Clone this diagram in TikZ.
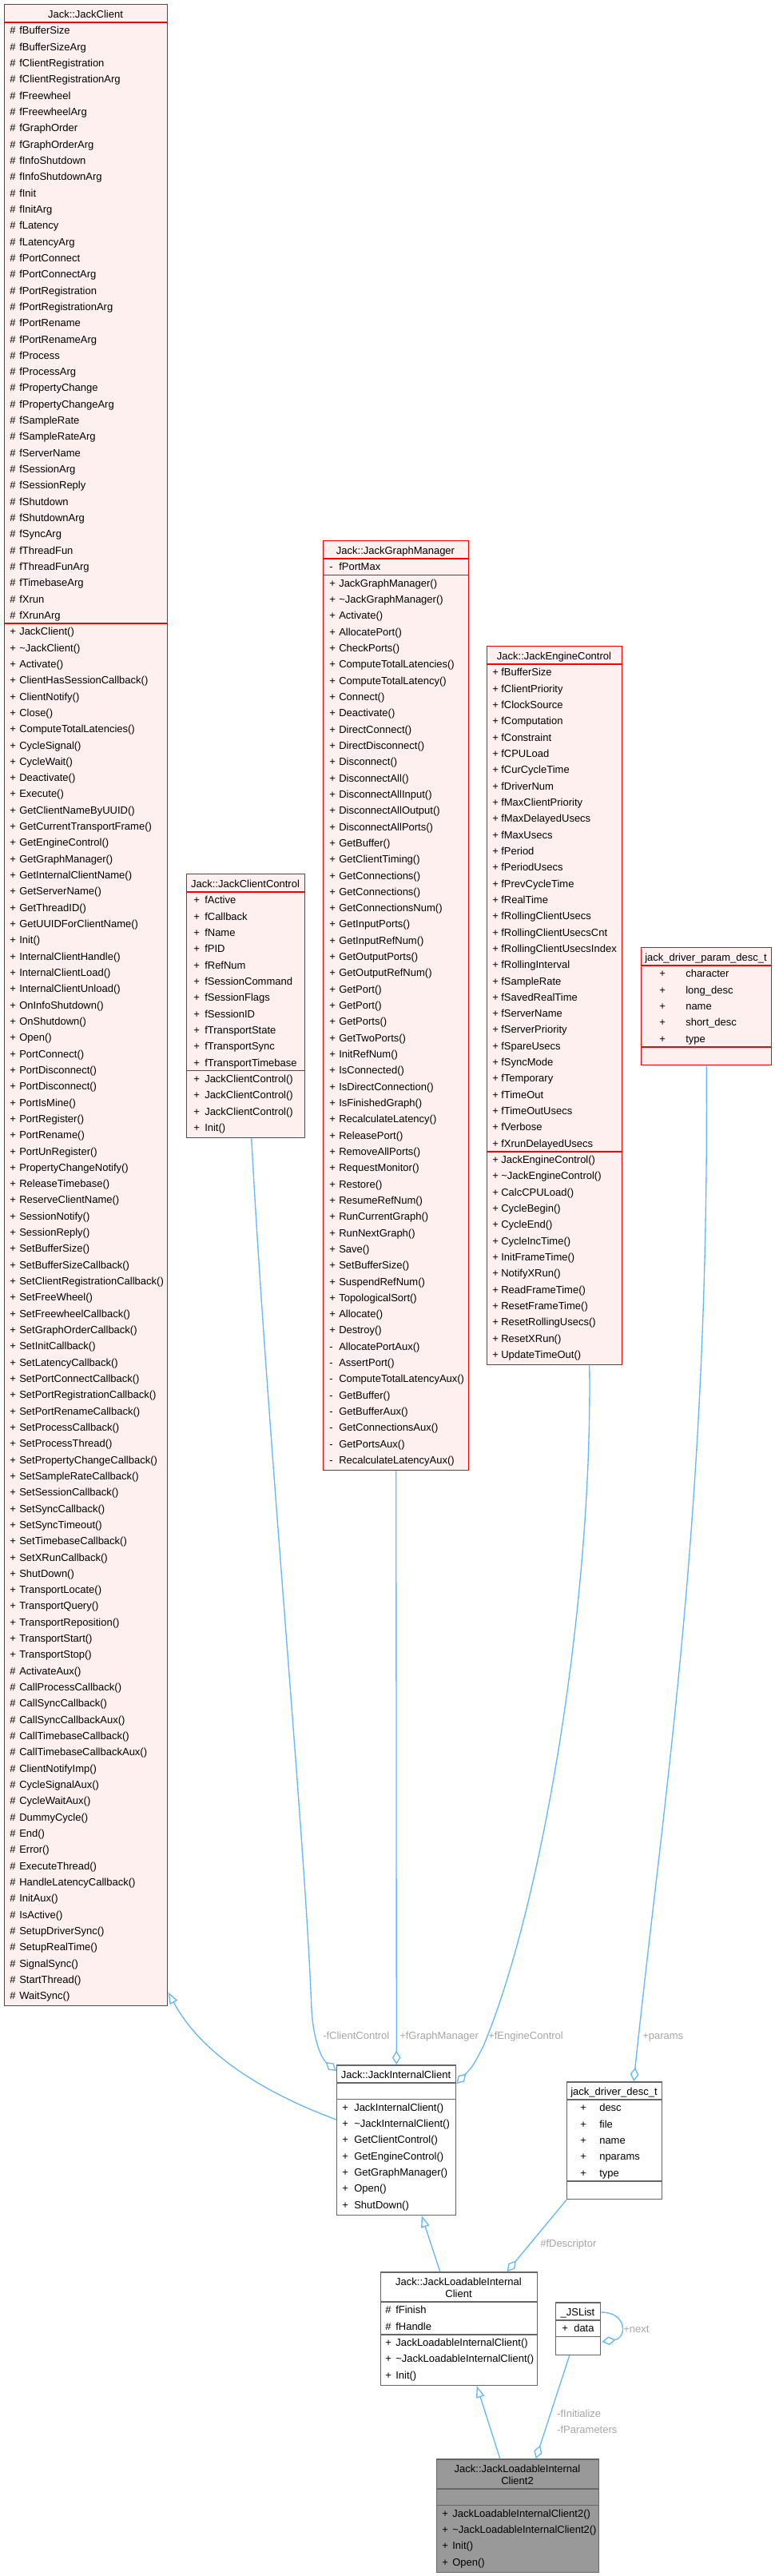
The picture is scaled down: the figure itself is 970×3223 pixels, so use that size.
\documentclass[tikz,border=0pt]{standalone}
\usepackage{fontspec}
\setmainfont{Liberation Sans}
\usepackage{tikz}
\usetikzlibrary{arrows.meta, calc}
\usepackage{xcolor}
\definecolor{edgeblue}{HTML}{63B8FF}
\definecolor{boxred}{HTML}{FF0000}
\definecolor{boxpink}{HTML}{FFF0F0}
\definecolor{boxgray}{HTML}{666666}
\definecolor{mainfill}{HTML}{999999}
\definecolor{lblgray}{HTML}{A6A6A6}
\newcommand{\pxu}{0.75pt}
% rows of one member group: prefix, x of sign, x of name, first y, sign, names
\newcommand{\members}[6]{%
  \foreach \mname [count=\k from 0] in {#6} {
    \node[member] (#1s\k) at ({#2},{#4+\k*20.32}) {#5};
    \node[member] (#1t\k) at ({#3},{#4+\k*20.32}) {\mname};
  }}

\begin{document}
\begin{tikzpicture}[x=0.75pt, y=-0.75pt,
    member/.style={anchor=base west, inner sep=0pt, yshift=-3.45pt,
                   font=\fontsize{9.75}{12}\selectfont},
    boxtitle/.style={member, anchor=base},
    elabel/.style={member, text=lblgray},
    redbox/.style={rectangle, draw=boxred, fill=boxpink, line width=1.1pt,
                   anchor=north west, inner sep=0pt},
    graybox/.style={redbox, draw=boxgray, fill=white},
    mainbox/.style={graybox, fill=mainfill},
    redrule/.style={draw=boxred, line width=1.1pt},
    grayrule/.style={draw=boxgray, line width=1.1pt},
    inh/.style={draw=edgeblue, line width=1pt, -{Triangle[open, length=11pt, width=8pt]}},
    agg/.style={draw=edgeblue, line width=1pt, -{Diamond[open, length=13pt, width=8pt]}}
  ]
    \fill[white] (0,0) rectangle (970,3223);
    \useasboundingbox (0,0) rectangle (970,3223);

    % Jack::JackClient
    \node[redbox, minimum width=204*\pxu, minimum height=2504*\pxu] (jclient) at (5,5) {};
    \node[boxtitle] (jclientT) at (107,18) {Jack::JackClient};
    \draw[redrule] (5,28.16) -- (209,28.16);
    \draw[redrule] (5,780) -- (209,780);
    \members{jca}{12}{24}{38.32}{\#}{fBufferSize, fBufferSizeArg, fClientRegistration,
      fClientRegistrationArg, fFreewheel, fFreewheelArg, fGraphOrder, fGraphOrderArg,
      fInfoShutdown, fInfoShutdownArg, fInit, fInitArg, fLatency, fLatencyArg,
      fPortConnect, fPortConnectArg, fPortRegistration, fPortRegistrationArg,
      fPortRename, fPortRenameArg, fProcess, fProcessArg, fPropertyChange,
      fPropertyChangeArg, fSampleRate, fSampleRateArg, fServerName, fSessionArg,
      fSessionReply, fShutdown, fShutdownArg, fSyncArg, fThreadFun, fThreadFunArg,
      fTimebaseArg, fXrun, fXrunArg}
    \members{jcp}{12}{24}{790.16}{+}{JackClient(), \textasciitilde JackClient(), Activate(),
      ClientHasSessionCallback(), ClientNotify(), Close(), ComputeTotalLatencies(),
      CycleSignal(), CycleWait(), Deactivate(), Execute(), GetClientNameByUUID(),
      GetCurrentTransportFrame(), GetEngineControl(), GetGraphManager(),
      GetInternalClientName(), GetServerName(), GetThreadID(), GetUUIDForClientName(),
      Init(), InternalClientHandle(), InternalClientLoad(), InternalClientUnload(),
      OnInfoShutdown(), OnShutdown(), Open(), PortConnect(), PortDisconnect(),
      PortDisconnect(), PortIsMine(), PortRegister(), PortRename(), PortUnRegister(),
      PropertyChangeNotify(), ReleaseTimebase(), ReserveClientName(), SessionNotify(),
      SessionReply(), SetBufferSize(), SetBufferSizeCallback(),
      SetClientRegistrationCallback(), SetFreeWheel(), SetFreewheelCallback(),
      SetGraphOrderCallback(), SetInitCallback(), SetLatencyCallback(),
      SetPortConnectCallback(), SetPortRegistrationCallback(), SetPortRenameCallback(),
      SetProcessCallback(), SetProcessThread(), SetPropertyChangeCallback(),
      SetSampleRateCallback(), SetSessionCallback(), SetSyncCallback(),
      SetSyncTimeout(), SetTimebaseCallback(), SetXRunCallback(), ShutDown(),
      TransportLocate(), TransportQuery(), TransportReposition(), TransportStart(),
      TransportStop()}
    \members{jcq}{12}{24}{2090.64}{\#}{ActivateAux(), CallProcessCallback(),
      CallSyncCallback(), CallSyncCallbackAux(), CallTimebaseCallback(),
      CallTimebaseCallbackAux(), ClientNotifyImp(), CycleSignalAux(), CycleWaitAux(),
      DummyCycle(), End(), Error(), ExecuteThread(), HandleLatencyCallback(), InitAux(),
      IsActive(), SetupDriverSync(), SetupRealTime(), SignalSync(), StartThread(),
      WaitSync()}

    % Jack::JackClientControl
    \node[redbox, minimum width=148*\pxu, minimum height=329.8*\pxu] (ctl) at (233,1093) {};
    \node[boxtitle] (ctlT) at (307,1106) {Jack::JackClientControl};
    \draw[redrule] (233,1116.16) -- (381,1116.16);
    \draw[redrule] (233,1339.68) -- (381,1339.68);
    \members{cca}{242}{256}{1126.32}{+}{fActive, fCallback, fName, fPID, fRefNum,
      fSessionCommand, fSessionFlags, fSessionID, fTransportState, fTransportSync,
      fTransportTimebase}
    \members{ccp}{242}{256}{1349.84}{+}{JackClientControl(), JackClientControl(),
      JackClientControl(), Init()}

    % Jack::JackGraphManager
    \node[redbox, minimum width=182*\pxu, minimum height=1162.9*\pxu] (gmgr) at (404,676) {};
    \node[boxtitle] (gmgrT) at (495,689) {Jack::JackGraphManager};
    \draw[redrule] (404,699.16) -- (586,699.16);
    \draw[redrule] (404,719.48) -- (586,719.48);
    \members{gma}{412}{424}{709.32}{-}{fPortMax}
    \members{gmp}{412}{424}{729.64}{+}{JackGraphManager(), \textasciitilde JackGraphManager(),
      Activate(), AllocatePort(), CheckPorts(), ComputeTotalLatencies(),
      ComputeTotalLatency(), Connect(), Deactivate(), DirectConnect(),
      DirectDisconnect(), Disconnect(), DisconnectAll(), DisconnectAllInput(),
      DisconnectAllOutput(), DisconnectAllPorts(), GetBuffer(), GetClientTiming(),
      GetConnections(), GetConnections(), GetConnectionsNum(), GetInputPorts(),
      GetInputRefNum(), GetOutputPorts(), GetOutputRefNum(), GetPort(), GetPort(),
      GetPorts(), GetTwoPorts(), InitRefNum(), IsConnected(), IsDirectConnection(),
      IsFinishedGraph(), RecalculateLatency(), ReleasePort(), RemoveAllPorts(),
      RequestMonitor(), Restore(), ResumeRefNum(), RunCurrentGraph(), RunNextGraph(),
      Save(), SetBufferSize(), SuspendRefNum(), TopologicalSort(), Allocate(), Destroy()}
    \members{gmq}{412}{424}{1684.68}{-}{AllocatePortAux(), AssertPort(),
      ComputeTotalLatencyAux(), GetBuffer(), GetBufferAux(), GetConnectionsAux(),
      GetPortsAux(), RecalculateLatencyAux()}

    % Jack::JackEngineControl
    \node[redbox, minimum width=169*\pxu, minimum height=898.8*\pxu] (engctl) at (609,808) {};
    \node[boxtitle] (engctlT) at (693.5,821) {Jack::JackEngineControl};
    \draw[redrule] (609,831.16) -- (778,831.16);
    \draw[redrule] (609,1440.76) -- (778,1440.76);
    \members{eca}{616}{627}{841.32}{+}{fBufferSize, fClientPriority, fClockSource,
      fComputation, fConstraint, fCPULoad, fCurCycleTime, fDriverNum,
      fMaxClientPriority, fMaxDelayedUsecs, fMaxUsecs, fPeriod, fPeriodUsecs,
      fPrevCycleTime, fRealTime, fRollingClientUsecs, fRollingClientUsecsCnt,
      fRollingClientUsecsIndex, fRollingInterval, fSampleRate, fSavedRealTime,
      fServerName, fServerPriority, fSpareUsecs, fSyncMode, fTemporary, fTimeOut,
      fTimeOutUsecs, fVerbose, fXrunDelayedUsecs}
    \members{ecp}{616}{627}{1450.92}{+}{JackEngineControl(),
      \textasciitilde JackEngineControl(), CalcCPULoad(), CycleBegin(), CycleEnd(),
      CycleIncTime(), InitFrameTime(), NotifyXRun(), ReadFrameTime(), ResetFrameTime(),
      ResetRollingUsecs(), ResetXRun(), UpdateTimeOut()}

    % jack_driver_param_desc_t
    \node[redbox, minimum width=163*\pxu, minimum height=147*\pxu] (pdesc) at (802,1185) {};
    \node[boxtitle] (pdescT) at (883.5,1198) {jack\_driver\_param\_desc\_t};
    \draw[redrule] (802,1208.16) -- (965,1208.16);
    \draw[redrule] (802,1309.76) -- (965,1309.76);
    \members{pda}{825}{858}{1218.32}{+}{character, long\_desc, name, short\_desc, type}

    % Jack::JackInternalClient
    \node[graybox, minimum width=149*\pxu, minimum height=187.6*\pxu] (intcl) at (421,2583) {};
    \node[boxtitle] (intclT) at (495.5,2596) {Jack::JackInternalClient};
    \draw[grayrule] (421,2606.16) -- (570,2606.16);
    \draw[grayrule] (421,2626.48) -- (570,2626.48);
    \members{icp}{428}{443}{2636.64}{+}{JackInternalClient(),
      \textasciitilde JackInternalClient(), GetClientControl(), GetEngineControl(),
      GetGraphManager(), Open(), ShutDown()}

    % jack_driver_desc_t
    \node[graybox, minimum width=119*\pxu, minimum height=146.9*\pxu] (ddesc) at (709,2604) {};
    \node[boxtitle] (ddescT) at (768.5,2617) {jack\_driver\_desc\_t};
    \draw[grayrule] (709,2627.16) -- (828,2627.16);
    \draw[grayrule] (709,2728.76) -- (828,2728.76);
    \members{dda}{726}{750}{2637.32}{+}{desc, file, name, nparams, type}

    % Jack::JackLoadableInternalClient
    \node[graybox, minimum width=196*\pxu, minimum height=141.6*\pxu] (ldcl) at (476,2842) {};
    \node[boxtitle] (ldclT) at (574,2855) {Jack::JackLoadableInternal};
    \node[boxtitle] (ldclU) at (574,2870) {Client};
    \draw[grayrule] (476,2880.16) -- (672,2880.16);
    \draw[grayrule] (476,2920.8) -- (672,2920.8);
    \members{lca}{482}{495}{2890.32}{\#}{fFinish, fHandle}
    \members{lcp}{482}{495}{2930.96}{+}{JackLoadableInternalClient(),
      \textasciitilde JackLoadableInternalClient(), Init()}

    % _JSList
    \node[graybox, minimum width=56*\pxu, minimum height=65.6*\pxu] (jslist) at (695,2880) {};
    \node[boxtitle] (jslistT) at (723,2893) {\_JSList};
    \draw[grayrule] (695,2903.16) -- (751,2903.16);
    \draw[grayrule] (695,2923.48) -- (751,2923.48);
    \members{jla}{703}{718}{2913.32}{+}{data}

    % Jack::JackLoadableInternalClient2
    \node[mainbox, minimum width=203*\pxu, minimum height=141.6*\pxu] (ldcl2) at (546,3076) {};
    \node[boxtitle] (ldcl2T) at (647.5,3089) {Jack::JackLoadableInternal};
    \node[boxtitle] (ldcl2U) at (647.5,3104) {Client2};
    \draw[grayrule] (546,3114.16) -- (749,3114.16);
    \draw[grayrule] (546,3134.48) -- (749,3134.48);
    \members{l2p}{553}{566}{3144.64}{+}{JackLoadableInternalClient2(),
      \textasciitilde JackLoadableInternalClient2(), Init(), Open()}

    % connectors
    \draw[inh] ($(intcl.north west)+(0,69)$) .. controls (340,2622) and (255,2575)
      .. ($(jclient.south east)+(0,-18)$);
    \draw[agg] ($(ctl.south)+(7,0)$) .. controls (335,1800) and (382,2300) .. (390,2515)
      .. controls (393,2560) and (405,2578) .. ($(intcl.north west)+(0,8)$);
    \draw[agg] (gmgr.south) -- (intcl.north);
    \draw[agg] ($(engctl.south)+(43.5,0)$) .. controls (742,2000) and (680,2380) .. (605,2560)
      .. controls (592,2585) .. ($(intcl.north east)+(0,24)$);
    \draw[agg] (pdesc.south) .. controls (888,1900) and (830,2250) .. ($(ddesc.north)+(24,0)$);
    \draw[inh] ($(ldcl.north)+(-24,0)$) -- ($(intcl.south)+(31.5,0)$);
    \draw[agg] (ddesc.south west) -- ($(ldcl.north)+(60,0)$);
    \draw[inh] ($(ldcl2.north)+(-22.5,0)$) -- ($(ldcl.south)+(22,0)$);
    \draw[agg] ($(jslist.south)+(-11,0)$) -- ($(ldcl2.north)+(22.5,0)$);
    \draw[agg] ($(jslist.north east)+(0,13)$) .. controls (785,2893) and (785,2925)
      .. ($(jslist.north east)+(1,50)$);

    \node[elabel] (lblctl) at (404,2547) {-fClientControl};
    \node[elabel] (lblgmgr) at (500,2547) {+fGraphManager};
    \node[elabel] (lbleng) at (611,2547) {+fEngineControl};
    \node[elabel] (lblpar) at (804,2547) {+params};
    \node[elabel] (lbldesc) at (676,2807) {\#fDescriptor};
    \node[elabel] (lblinit) at (697,3020) {-fInitialize};
    \node[elabel] (lblparm) at (697,3040) {-fParameters};
    \node[elabel] (lblnext) at (780,2914) {+next};
\end{tikzpicture}
\end{document}
